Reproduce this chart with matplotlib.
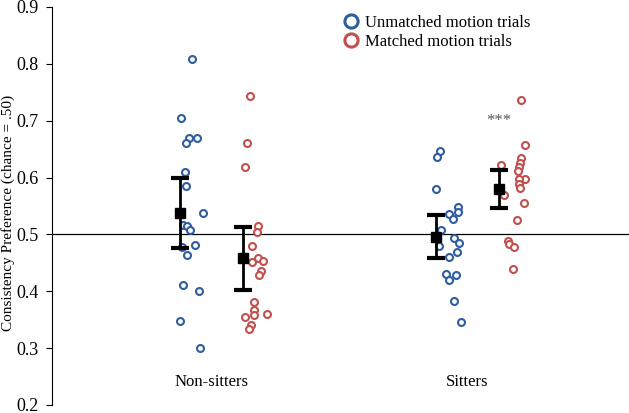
import matplotlib
matplotlib.use("Agg")
import numpy as np
from matplotlib import pyplot as plt
from matplotlib.lines import Line2D

# groupes et valeurs
groups = ["Non-sitters", "Sitters"]
series = ["Unmatched motion trials", "Matched motion trials"]

nonsit_unmatched = [0.808, 0.705, 0.670, 0.670, 0.660, 0.610, 0.586, 0.538, 0.516,
                    0.515, 0.508, 0.478, 0.482, 0.464, 0.411, 0.401, 0.348, 0.301]
nonsit_matched = [0.744, 0.660, 0.618, 0.514, 0.505, 0.480, 0.458, 0.452, 0.453,
                  0.436, 0.429, 0.381, 0.367, 0.354, 0.358, 0.360, 0.341, 0.334]
sit_unmatched = [0.646, 0.637, 0.579, 0.548, 0.536, 0.539, 0.527, 0.508, 0.494,
                 0.480, 0.485, 0.469, 0.461, 0.430, 0.429, 0.420, 0.383, 0.346]
sit_matched = [0.736, 0.657, 0.635, 0.625, 0.618, 0.612, 0.622, 0.598, 0.598,
               0.588, 0.581, 0.569, 0.556, 0.526, 0.489, 0.484, 0.478, 0.440]

# decalage horizontal de chaque point
nonsit_unmatched_dx = [0.049, 0.004, 0.036, 0.066, 0.023, 0.022, 0.025, 0.090, 0.014,
                       0.029, 0.040, 0.009, 0.059, 0.030, 0.014, 0.077, 0.001, 0.080]
nonsit_matched_dx = [0.025, 0.013, 0.008, 0.059, 0.052, 0.035, 0.057, 0.035, 0.078,
                     0.069, 0.060, 0.042, 0.042, 0.005, 0.041, 0.094, 0.029, 0.023]
sit_unmatched_dx = [0.016, 0.005, 0.001, 0.086, 0.051, 0.088, 0.066, 0.020, 0.072,
                    0.013, 0.090, 0.082, 0.052, 0.040, 0.078, 0.051, 0.073, 0.099]
sit_matched_dx = [0.086, 0.102, 0.087, 0.082, 0.078, 0.073, 0.008, 0.100, 0.077,
                  0.079, 0.082, 0.020, 0.095, 0.069, 0.034, 0.040, 0.056, 0.054]

# moyennes et erreurs
means = [0.538, 0.458, 0.496, 0.580]
errs = [0.062, 0.055, 0.038, 0.034]

blue = "#2f5d9e"
red = "#c0504d"

plt.rcParams['font.family'] = ['Liberation Serif', 'DejaVu Serif']

fig = plt.figure(figsize=(6.29, 4.13), dpi=100)
ax = fig.add_axes([0.0827, 0.0194, 0.9173, 0.9637])

off = 0.124
centers = [1 - off, 1 + off, 2 - off, 2 + off]
pts = [nonsit_unmatched, nonsit_matched, sit_unmatched, sit_matched]
dxs = [nonsit_unmatched_dx, nonsit_matched_dx, sit_unmatched_dx, sit_matched_dx]
cols = [blue, red, blue, red]

for c, y, dx, col in zip(centers, pts, dxs, cols):
    ax.plot(c + np.array(dx), y, 'o', ms=5, mfc='white', mec=col, mew=1.5,
            linestyle='none', zorder=2)

ax.errorbar(centers, means, yerr=errs, fmt='s', color='black', ms=7.5,
            elinewidth=2, capsize=6.5, capthick=3, zorder=3)

ax.axhline(0.5, color='black', lw=0.9, zorder=1)

ax.text(2 + off, 0.70, "***", ha='center', va='center', fontsize=12, color='#555555')

ax.text(1, 0.241, groups[0], ha='center', va='center', fontsize=12)
ax.text(2, 0.241, groups[1], ha='center', va='center', fontsize=12)

ax.set_xlim(0.377, 2.631)
ax.set_ylim(0.2, 0.9)
ax.set_yticks(np.arange(0.2, 0.91, 0.1))
ax.set_yticklabels(["%.1f" % v for v in np.arange(0.2, 0.91, 0.1)], fontsize=13)
ax.set_xticks([])
ax.tick_params(axis='y', direction='out', length=4, width=0.8, pad=6)
ax.set_ylabel("Consistency Preference (chance = .50)", fontsize=11, va='center')
ax.yaxis.set_label_coords(-0.0765, 0.482)
for s in ['top', 'right', 'bottom']:
    ax.spines[s].set_visible(False)
ax.spines['left'].set_linewidth(0.8)

handles = [Line2D([], [], marker='o', ls='none', ms=9.5, mfc='white', mec=blue, mew=2.2),
           Line2D([], [], marker='o', ls='none', ms=9.5, mfc='white', mec=red, mew=2.2)]
ax.legend(handles, series, loc='upper left', bbox_to_anchor=(0.4835, 1.005), frameon=False,
          fontsize=12, handletextpad=0.25, borderaxespad=0.2, labelspacing=0.2,
          handlelength=1.2)

fig.savefig("out.png", dpi=100)
